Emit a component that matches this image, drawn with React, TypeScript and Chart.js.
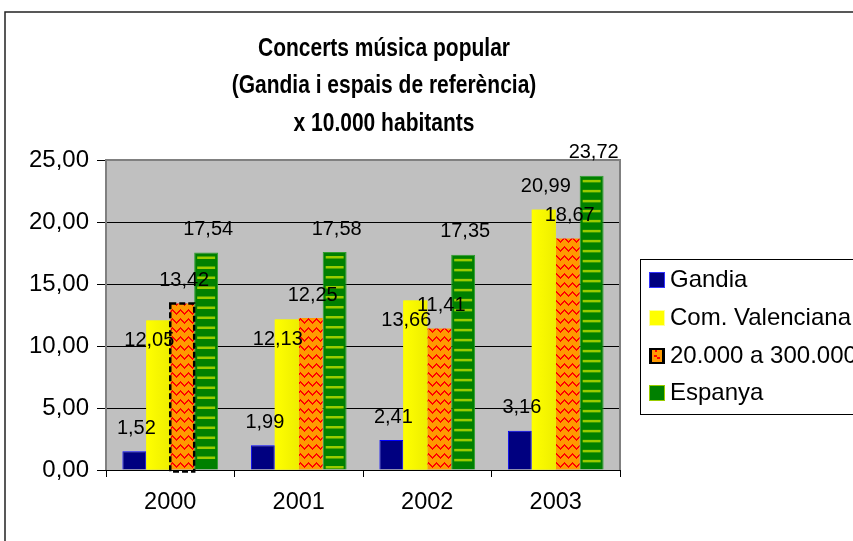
import { useEffect, useRef } from 'react';
import { Chart, registerables } from 'chart.js';

Chart.register(...registerables);

const categories = ['2000', '2001', '2002', '2003'];
const gandia = [1.52, 1.99, 2.41, 3.16];
const comValenciana = [12.05, 12.13, 13.66, 20.99];
const municipis = [13.42, 12.25, 11.41, 18.67];
const espanya = [17.54, 17.58, 17.35, 23.72];
const seriesNames = ['Gandia', 'Com. Valenciana', '20.000 a 300.000', 'Espanya'];
const yMin = 0;
const yMax = 25;
const yStep = 5;
const titleLines = ['Concerts música popular', '(Gandia i espais de referència)', 'x 10.000 habitants'];
// label placement flag for the Com. Valenciana series (inside top of bar or above it)
const valencianaLabelInside = [true, true, true, false];

const FONT = "'Liberation Sans', Arial, Helvetica, sans-serif";
const fmt = (v: number) => v.toFixed(2).replace('.', ',');

function makeZigzag(): CanvasPattern | string {
  const c = document.createElement('canvas');
  c.width = 8;
  c.height = 9;
  const g = c.getContext('2d');
  if (!g) return '#FF9900';
  g.fillStyle = '#FF9900';
  g.fillRect(0, 0, 8, 9);
  g.fillStyle = '#FF0000';
  const pts = [[0, 7], [1, 6], [2, 5], [3, 4], [4, 3], [5, 4], [6, 5], [7, 6]];
  pts.forEach(([px, py]) => g.fillRect(px, py, 1, 2));
  const ctx2 = document.createElement('canvas').getContext('2d');
  const p = ctx2 ? ctx2.createPattern(c, 'repeat') : null;
  return p || '#FF9900';
}

export default function App() {
  const ref = useRef<HTMLCanvasElement | null>(null);

  useEffect(() => {
    if (!ref.current) return;
    const zig = makeZigzag();

    const framePlugin = {
      id: 'frame',
      beforeDraw(chart: any) {
        const { ctx, chartArea: a } = chart;
        ctx.save();
        ctx.fillStyle = '#FFFFFF';
        ctx.fillRect(0, 0, chart.width, chart.height);
        ctx.fillStyle = '#C0C0C0';
        ctx.fillRect(a.left, a.top, a.right - a.left, a.bottom - a.top);
        ctx.strokeStyle = '#222222';
        ctx.lineWidth = 1.5;
        ctx.strokeRect(5, 12, 900, 600);
        ctx.restore();
      },
      beforeDatasetsDraw(chart: any) {
        const { ctx, chartArea: a } = chart;
        ctx.save();
        ctx.strokeStyle = '#808080';
        ctx.lineWidth = 2;
        ctx.beginPath();
        ctx.moveTo(a.left, a.bottom);
        ctx.lineTo(a.left, a.top);
        ctx.lineTo(a.right, a.top);
        ctx.lineTo(a.right, a.bottom);
        ctx.stroke();
        ctx.restore();
      },
      afterDatasetsDraw(chart: any) {
        const { ctx } = chart;
        ctx.save();
        // yellow bars: slight left-to-right shading
        const ym = chart.getDatasetMeta(1);
        ym.data.forEach((el: any) => {
          const { x, y, base, width } = el.getProps(['x', 'y', 'base', 'width'], true);
          const left = x - width / 2;
          const gr = ctx.createLinearGradient(left, 0, left + width, 0);
          gr.addColorStop(0, '#FFFF00');
          gr.addColorStop(1, '#EEEE00');
          ctx.fillStyle = gr;
          ctx.fillRect(left, y, width, base - y);
        });
        // green dashes
        const gm = chart.getDatasetMeta(3);
        ctx.fillStyle = '#99CC00';
        gm.data.forEach((el: any) => {
          const { x, y, base, width } = el.getProps(['x', 'y', 'base', 'width'], true);
          const left = x - width / 2;
          for (let yy = y + 4; yy + 3 < base; yy += 10) {
            ctx.fillRect(left + 3, yy, width - 6, 2.5);
          }
        });
        // dashed outline on first orange bar
        const om = chart.getDatasetMeta(2);
        const e0 = om.data[0];
        if (e0) {
          const { x, y, base, width } = e0.getProps(['x', 'y', 'base', 'width'], true);
          ctx.strokeStyle = '#000000';
          ctx.lineWidth = 2.5;
          ctx.setLineDash([6, 3]);
          ctx.strokeRect(x - width / 2, y, width, base - y + 2);
          ctx.setLineDash([]);
        }
        // data labels
        ctx.fillStyle = '#000000';
        ctx.font = `20px ${FONT}`;
        ctx.textAlign = 'center';
        ctx.textBaseline = 'middle';
        chart.data.datasets.forEach((ds: any, di: number) => {
          const meta = chart.getDatasetMeta(di);
          meta.data.forEach((el: any, i: number) => {
            const { x, y } = el.getProps(['x', 'y'], true);
            const v = ds.data[i];
            let lx = x + 2;
            let ly = y - 23;
            if (di === 1 && valencianaLabelInside[i]) {
              lx = x - 9;
              ly = y + 20;
            }
            ctx.fillText(fmt(v), lx, ly);
          });
        });
        ctx.restore();
      },
      afterDraw(chart: any) {
        const { ctx } = chart;
        ctx.save();
        // title (slightly condensed, tall bold type)
        ctx.fillStyle = '#000000';
        ctx.font = `bold 25px ${FONT}`;
        ctx.textAlign = 'center';
        ctx.textBaseline = 'middle';
        titleLines.forEach((t, i) => {
          ctx.save();
          ctx.translate(384, 49 + i * 37.5);
          ctx.scale(0.84, 1);
          ctx.fillText(t, 0, 0);
          ctx.restore();
        });
        // legend
        ctx.strokeStyle = '#000000';
        ctx.lineWidth = 1;
        ctx.strokeRect(640.5, 259.5, 320, 155);
        const rows = [280, 318, 356, 393];
        ctx.font = `24px ${FONT}`;
        ctx.textAlign = 'left';
        seriesNames.forEach((name, i) => {
          const cy = rows[i];
          const sx = 649;
          const sy = cy - 8;
          if (i === 0) {
            ctx.fillStyle = '#000080';
            ctx.fillRect(sx, sy, 16, 16);
            ctx.strokeStyle = '#3333FF';
            ctx.strokeRect(sx + 0.5, sy + 0.5, 15, 15);
          } else if (i === 1) {
            ctx.fillStyle = '#FFFF00';
            ctx.fillRect(sx, sy, 16, 16);
            ctx.strokeStyle = '#FFFF99';
            ctx.strokeRect(sx + 0.5, sy + 0.5, 15, 15);
          } else if (i === 2) {
            ctx.fillStyle = '#000000';
            ctx.fillRect(sx, sy, 16, 16);
            ctx.fillStyle = '#FF9900';
            ctx.fillRect(sx + 3, sy + 2, 10, 12);
            ctx.fillStyle = '#FF0000';
            ctx.fillRect(sx + 5, sy + 7, 3, 2);
            ctx.fillRect(sx + 8, sy + 9, 3, 2);
            ctx.fillRect(sx + 6, sy + 2, 2, 2);
          } else {
            ctx.fillStyle = '#008000';
            ctx.fillRect(sx, sy, 16, 16);
            ctx.strokeStyle = '#99CC00';
            ctx.strokeRect(sx + 0.5, sy + 0.5, 15, 15);
          }
          ctx.fillStyle = '#000000';
          ctx.fillText(name, 670, cy);
        });
        ctx.restore();
      },
    };

    const chart = new Chart(ref.current, {
      type: 'bar',
      data: {
        labels: categories,
        datasets: [
          { label: seriesNames[0], data: gandia, backgroundColor: '#000080', borderColor: '#0000FF', borderWidth: 1 },
          { label: seriesNames[1], data: comValenciana, backgroundColor: '#F8F800', borderWidth: 0 },
          { label: seriesNames[2], data: municipis, backgroundColor: zig as any, borderWidth: 0 },
          { label: seriesNames[3], data: espanya, backgroundColor: '#008000', borderColor: '#2E9E2E', borderWidth: 1 },
        ],
      },
      options: {
        responsive: false,
        animation: false,
        events: [],
        layout: { padding: { left: 0, top: 160, right: 233, bottom: 0 } },
        datasets: { bar: { categoryPercentage: 0.745, barPercentage: 1 } },
        plugins: { legend: { display: false }, title: { display: false }, tooltip: { enabled: false } },
        scales: {
          x: {
            afterFit: (s: any) => { s.height = 71; },
            grid: { display: true, drawOnChartArea: false, drawTicks: true, tickLength: 7, color: '#000000', offset: true },
            border: { display: true, color: '#000000', width: 1 },
            ticks: { color: '#000000', font: { family: FONT, size: 23.5 }, padding: 11 },
          },
          y: {
            min: yMin,
            max: yMax,
            afterFit: (s: any) => { s.width = 106; },
            grid: { color: '#000000', lineWidth: 1, tickLength: 9, drawTicks: true },
            border: { display: false },
            ticks: {
              stepSize: yStep,
              color: '#000000',
              font: { family: FONT, size: 24 },
              padding: 8,
              callback: (v: any) => fmt(Number(v)),
            },
          },
        },
      },
      plugins: [framePlugin],
    });
    return () => chart.destroy();
  }, []);

  return (
    <div style={{ position: 'absolute', left: 0, top: 0, width: 853, height: 541, overflow: 'hidden' }}>
      <canvas ref={ref} width={853} height={541} style={{ display: 'block' }} />
    </div>
  );
}
